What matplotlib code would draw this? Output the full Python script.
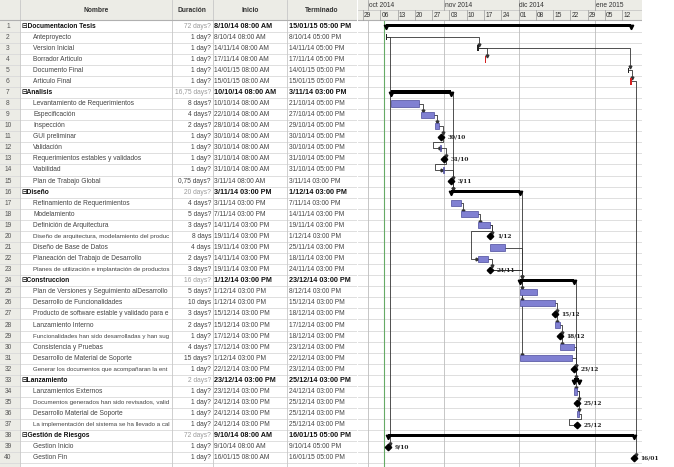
import matplotlib.pyplot as plt
from matplotlib.patches import Rectangle

plt.rcParams["font.family"] = ["Liberation Sans", "DejaVu Sans"]

# ---- table data ----
names = [
    "Documentacion Tesis", "Anteproyecto", "Version Inicial", "Borrador Articulo",
    "Documento Final", "Articulo Final", "Analisis", "Levantamiento de Requerimientos",
    "Especificación", "Inspección", "GUI preliminar", "Validación",
    "Requerimientos estables y validados", "Viabilidad", "Plan de Trabajo Global", "Diseño",
    "Refinamiento de Requerimientos", "Modelamiento", "Definición de Arquitectura",
    "Diseño de arquitectura, modelamiento del produc", "Diseño de Base de Datos",
    "Planeación del Trabajo de Desarrollo", "Planes de utilización e implantación de productos",
    "Construccion", "Plan de Versiones y Seguimiento alDesarrollo",
    "Desarrollo de Funcionalidades", "Producto de software estable y validado para e",
    "Lanzamiento Interno", "Funcionalidades han sido desarrolladas y han sug",
    "Consistencia y Pruebas", "Desarrollo de Material de Soporte",
    "Generar los documentos que acompañaran la ent", "Lanzamiento", "Lanzamientos Externos",
    "Documentos generados han sido revisados, valid", "Desarrollo Material de Soporte",
    "La implementación del sistema se ha llevado a cal", "Gestión de Riesgos",
    "Gestion Inicio", "Gestion Fin",
]
durations = [
    "72 days?", "1 day?", "1 day?", "1 day?", "1 day?", "1 day?", "16,75 days?", "8 days?",
    "4 days?", "2 days?", "1 day?", "1 day?", "1 day?", "1 day?", "0,75 days?", "20 days?",
    "4 days?", "5 days?", "3 days?", "8 days", "4 days", "2 days?", "3 days?", "16 days?",
    "5 days?", "10 days", "3 days?", "2 days?", "1 day?", "4 days?", "15 days?", "1 day?",
    "2 days?", "1 day?", "1 day?", "1 day?", "1 day?", "72 days?", "1 day?", "1 day?",
]
start_txt = [
    "8/10/14 08:00 AM", "8/10/14 08:00 AM", "14/11/14 08:00 AM", "17/11/14 08:00 AM",
    "14/01/15 08:00 AM", "15/01/15 08:00 AM", "10/10/14 08:00 AM", "10/10/14 08:00 AM",
    "22/10/14 08:00 AM", "28/10/14 08:00 AM", "30/10/14 08:00 AM", "30/10/14 08:00 AM",
    "31/10/14 08:00 AM", "31/10/14 08:00 AM", "3/11/14 08:00 AM", "3/11/14 03:00 PM",
    "3/11/14 03:00 PM", "7/11/14 03:00 PM", "14/11/14 03:00 PM", "19/11/14 03:00 PM",
    "19/11/14 03:00 PM", "14/11/14 03:00 PM", "19/11/14 03:00 PM", "1/12/14 03:00 PM",
    "1/12/14 03:00 PM", "1/12/14 03:00 PM", "15/12/14 03:00 PM", "15/12/14 03:00 PM",
    "17/12/14 03:00 PM", "17/12/14 03:00 PM", "1/12/14 03:00 PM", "22/12/14 03:00 PM",
    "23/12/14 03:00 PM", "23/12/14 03:00 PM", "24/12/14 03:00 PM", "24/12/14 03:00 PM",
    "24/12/14 03:00 PM", "9/10/14 08:00 AM", "9/10/14 08:00 AM", "16/01/15 08:00 AM",
]
end_txt = [
    "15/01/15 05:00 PM", "8/10/14 05:00 PM", "14/11/14 05:00 PM", "17/11/14 05:00 PM",
    "14/01/15 05:00 PM", "15/01/15 05:00 PM", "3/11/14 03:00 PM", "21/10/14 05:00 PM",
    "27/10/14 05:00 PM", "29/10/14 05:00 PM", "30/10/14 05:00 PM", "30/10/14 05:00 PM",
    "31/10/14 05:00 PM", "31/10/14 05:00 PM", "3/11/14 03:00 PM", "1/12/14 03:00 PM",
    "7/11/14 03:00 PM", "14/11/14 03:00 PM", "19/11/14 03:00 PM", "1/12/14 03:00 PM",
    "25/11/14 03:00 PM", "18/11/14 03:00 PM", "24/11/14 03:00 PM", "23/12/14 03:00 PM",
    "8/12/14 03:00 PM", "15/12/14 03:00 PM", "18/12/14 03:00 PM", "17/12/14 03:00 PM",
    "18/12/14 03:00 PM", "23/12/14 03:00 PM", "22/12/14 03:00 PM", "23/12/14 03:00 PM",
    "25/12/14 03:00 PM", "24/12/14 03:00 PM", "25/12/14 03:00 PM", "25/12/14 03:00 PM",
    "25/12/14 03:00 PM", "16/01/15 05:00 PM", "9/10/14 05:00 PM", "16/01/15 05:00 PM",
]
summary_rows = [1, 7, 16, 24, 33, 38]

# ---- gantt data (days since 29 Sep 2014) ----
kinds = [
    "sum", "tick", "tick", "crit", "tick", "crit", "sum", "task", "task", "task",
    "ms", "task", "ms", "task", "ms", "sum", "task", "task", "task", "ms",
    "task", "task", "ms", "sum", "task", "task", "ms", "task", "ms", "task",
    "task", "ms", "sum", "task", "ms", "task", "ms", "sum", "ms", "ms",
]
bar_start = [
    9.33, 9.33, 46.33, 49.33, 107.33, 108.33, 11.33, 11.33, 23.33, 29.33,
    31.7, 31.33, 32.7, 32.33, 35.62, 35.62, 35.62, 39.62, 46.62, 51.62,
    51.62, 46.62, 51.62, 63.62, 63.62, 63.62, 77.62, 77.62, 79.62, 79.62,
    63.62, 85.62, 85.62, 85.62, 86.62, 86.62, 86.62, 10.33, 10.33, 109.71,
]
bar_end = [
    108.71, 9.71, 46.71, 49.71, 107.71, 108.71, 35.62, 22.71, 28.71, 30.71,
    31.7, 31.71, 32.7, 32.71, 35.62, 63.62, 39.62, 46.62, 51.62, 51.62,
    57.62, 50.62, 51.62, 85.62, 70.62, 77.62, 77.62, 79.62, 79.62, 85.62,
    84.62, 85.62, 87.62, 86.62, 86.62, 87.62, 86.62, 109.71, 10.33, 109.71,
]
ms_labels = {11: "30/10", 13: "31/10", 15: "3/11", 20: "1/12", 23: "24/11",
             27: "15/12", 29: "18/12", 32: "23/12", 35: "25/12", 37: "25/12",
             39: "9/10", 40: "16/01"}
links = [(2, 3), (3, 4), (3, 5), (5, 6), (2, 39), (6, 40), (7, 16), (16, 24), (24, 33),
         (8, 9), (9, 10), (10, 11), (11, 12), (12, 13), (13, 14), (14, 15), (15, 16),
         (17, 18), (18, 19), (19, 20), (19, 22), (22, 23), (21, 24),
         (23, 25), (23, 26), (23, 31), (26, 27), (27, 28), (28, 29), (29, 30),
         (31, 32), (30, 32), (32, 34), (34, 35), (34, 36), (36, 37)]

month_labels = ["oct 2014", "nov 2014", "dic 2014", "ene 2015"]
month_days = [2, 33, 63, 94]
week_days = [0, 7, 14, 21, 28, 35, 42, 49, 56, 63, 70, 77, 84, 91, 98, 105]
week_labels = ["29", "06", "13", "20", "27", "03", "10", "17", "24", "01",
               "08", "15", "22", "29", "05", "12"]

n = len(names)
y_top, y_bot = -1.85, n + 0.32
fs = 4.8
grid_c = "#d9d9d9"
head_c = "#ecece6"

fig = plt.figure(figsize=(6.74, 4.67), dpi=100)
renderer = fig.canvas.get_renderer()

# ---------------- table ----------------
tab = fig.add_axes([0, 0, 357 / 674, 1])
tab.set_xlim(0, 357)
tab.set_ylim(y_bot, y_top)
tab.axis("off")
tab.add_patch(Rectangle((0, y_top), 357, -y_top, color=head_c, lw=0))
tab.add_patch(Rectangle((0, 0), 20, y_bot, color=head_c, lw=0))
for yb in range(0, n + 1):
    tab.axhline(yb, color=grid_c, lw=0.6)
for xb in [20, 172, 213, 287, 356.5]:
    tab.axvline(xb, color="#c8c8c8", lw=0.6)
tab.axhline(0, color="#b0b0b0", lw=0.8)
for txt, xc in [("Nombre", 96), ("Duración", 192), ("Inicio", 250), ("Terminado", 322)]:
    tab.text(xc, y_top / 2, txt, fontsize=fs, fontweight="bold", ha="center", va="center", color="#333333")

for i in range(n):
    r = i + 1
    yc = r - 0.5
    is_sum = r in summary_rows
    tab.text(8, yc, str(r), fontsize=fs, ha="center", va="center", color="#555555")
    if is_sum:
        t = tab.text(22, yc, "⊟" + names[i], fontsize=fs, fontweight="bold", va="center", color="#111111")
        tab.text(211, yc, durations[i], fontsize=fs, ha="right", va="center", color="#9a9a9a")
        tab.text(214, yc, start_txt[i], fontsize=fs + 0.4, fontweight="bold", va="center", color="#111111")
        tab.text(289, yc, end_txt[i], fontsize=fs + 0.4, fontweight="bold", va="center", color="#111111")
    else:
        t = tab.text(33, yc, names[i], fontsize=fs, va="center", color="#444444")
        tab.text(211, yc, durations[i], fontsize=fs, ha="right", va="center", color="#444444")
        tab.text(214, yc, start_txt[i], fontsize=fs, va="center", color="#444444")
        tab.text(289, yc, end_txt[i], fontsize=fs, va="center", color="#444444")
    # shrink long names so they stay inside the Nombre column
    size = fs
    while t.get_window_extent(renderer).x1 > 170 and size > 3:
        size -= 0.1
        t.set_fontsize(size)

# ---------------- gantt ----------------
g = fig.add_axes([358 / 674, 0, 284 / 674, 1])
x0, x1 = -2.0, 113.0
g.set_xlim(x0, x1)
g.set_ylim(y_bot, y_top)
g.axis("off")
g.add_patch(Rectangle((x0, y_top), x1 - x0, -y_top, color=head_c, lw=0, zorder=0))
g.axhline(y_top / 2, color="#c0c0c0", lw=0.5)
g.axhline(0, color="#b0b0b0", lw=0.8)
for yb in range(1, n + 1):
    g.axhline(yb, color=grid_c, lw=0.6, zorder=0)
for md, ml in zip(month_days, month_labels):
    g.plot([md, md], [y_top, y_top / 2], color="#999999", lw=0.5)
    g.plot([md, md], [0, y_bot], color="#bdbdbd", lw=0.6, zorder=0)
    g.text(md + 0.3, y_top * 0.75, ml, fontsize=fs, va="center", color="#333333")
for wd, wl in zip(week_days, week_labels):
    g.plot([wd, wd], [y_top / 2, 0], color="#999999", lw=0.5)
    g.text(wd + 0.5, y_top / 4, wl, fontsize=fs, va="center", color="#333333")
g.axvline(8.6, ymin=0, ymax=0.955, color="#66aa66", lw=0.8, zorder=0)

line_c = "#333333"
for a, b in links:
    ya, yb_ = a - 0.5, b - 0.5
    fe, ts = bar_end[a - 1], bar_start[b - 1]
    if ts >= fe - 0.1:
        xt = ts + 0.8
        g.plot([fe, xt, xt], [ya, ya, yb_ - 0.3], color=line_c, lw=0.6, zorder=2)
        g.plot(xt, yb_ - 0.3, marker="v", ms=2, color=line_c, zorder=2)
    else:
        xr = fe + 0.8
        xl = ts - 3
        g.plot([fe, xr, xr, xl, xl, ts - 0.3], [ya, ya, a, a, yb_, yb_],
               color=line_c, lw=0.6, zorder=2)
        g.plot(ts - 0.3, yb_, marker=">", ms=2, color=line_c, zorder=2)

for i in range(n):
    r = i + 1
    yc = r - 0.5
    k = kinds[i]
    s, e = bar_start[i], bar_end[i]
    if k == "sum":
        g.barh(yc - 0.05, e - s, left=s, height=0.3, color="black", zorder=3)
        g.plot([s, e], [yc + 0.1, yc + 0.1], "v", ms=3.2, color="black", zorder=3)
    elif k == "task":
        g.barh(yc, e - s, left=s, height=0.55, color="#8080d2", edgecolor="#4a4a9a", lw=0.5, zorder=3)
    elif k == "crit":
        g.barh(yc, max(e - s, 0.6), left=s, height=0.6, color="#d42020", zorder=3)
    elif k == "tick":
        g.barh(yc, max(e - s, 0.5), left=s, height=0.5, color="#222222", zorder=3)
    elif k == "ms":
        g.plot(s, yc, marker="D", ms=3.3, color="black", zorder=4)
    if r in ms_labels:
        g.text(s + 2.6, yc, ms_labels[r], fontsize=4.2, fontweight="bold", family="serif",
               va="center", color="#222222")

fig.savefig("out.png", dpi=100)
